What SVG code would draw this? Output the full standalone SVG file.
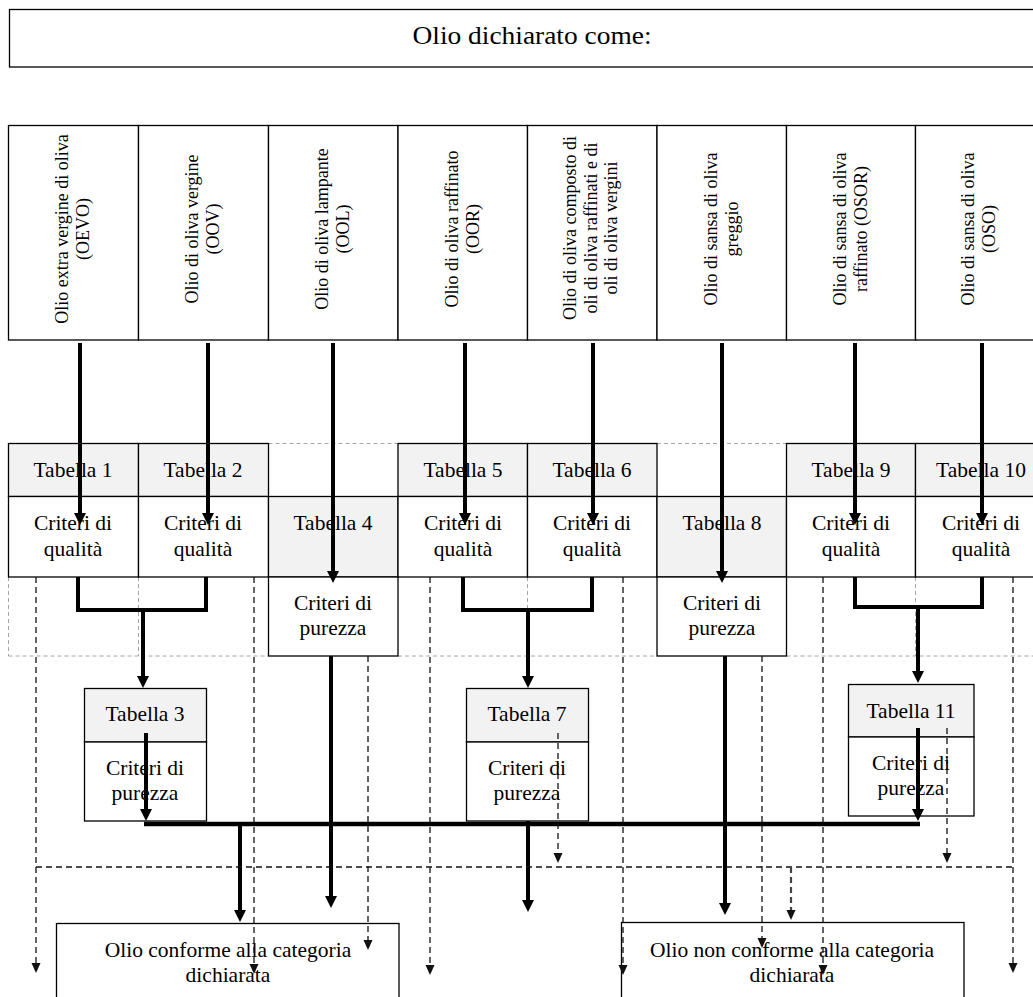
<svg xmlns="http://www.w3.org/2000/svg" width="1033" height="997" viewBox="0 0 1033 997">
<defs>
<style>
.box{fill:#fff;stroke:#000;stroke-width:1.3}
.hd{fill:#f2f2f2;stroke:#000;stroke-width:1.3}
.tdash{fill:none;stroke:#a6a6a6;stroke-width:1;stroke-dasharray:4 3}
.t{font-family:"Liberation Serif","Times New Roman",serif;font-size:21.5px;fill:#000;text-anchor:middle}
.v{font-family:"Liberation Serif","Times New Roman",serif;font-size:18px;fill:#000;text-anchor:middle}
.title{font-family:"Liberation Serif","Times New Roman",serif;font-size:25px;fill:#000;text-anchor:middle}
.thick{fill:none;stroke:#000;stroke-width:4}
.dash{fill:none;stroke:#111;stroke-width:1.3;stroke-dasharray:6 4}
</style>
<marker id="ah" markerUnits="userSpaceOnUse" markerWidth="12" markerHeight="12" viewBox="0 0 12 12" refX="1" refY="6" orient="auto"><path d="M0,0 L12,6 L0,12 z" fill="#000"/></marker>
<marker id="ad" markerUnits="userSpaceOnUse" markerWidth="10" markerHeight="10" viewBox="0 0 10 10" refX="1" refY="5" orient="auto"><path d="M0,0.5 L10,5 L0,9.5 z" fill="#111"/></marker>
</defs>
<rect width="1033" height="997" fill="#fff"/>

<g id="title">
<rect class="box" x="9.5" y="9.5" width="1040" height="57.5"/>
<text class="title" x="532" y="44" textLength="239" lengthAdjust="spacingAndGlyphs">Olio dichiarato come:</text>
</g>

<g id="col1"><rect class="box" x="8.5" y="125.5" width="130" height="214.5"/>
<text class="v" transform="translate(73,229) rotate(-90)"><tspan x="0" y="-5">Olio extra vergine di oliva</tspan><tspan x="0" y="16">(OEVO)</tspan></text></g>
<g id="col2"><rect class="box" x="138.5" y="125.5" width="130" height="214.5"/>
<text class="v" transform="translate(203,229) rotate(-90)"><tspan x="0" y="-5">Olio di oliva vergine</tspan><tspan x="0" y="16">(OOV)</tspan></text></g>
<g id="col3"><rect class="box" x="268.5" y="125.5" width="129.5" height="214.5"/>
<text class="v" transform="translate(333,229) rotate(-90)"><tspan x="0" y="-5">Olio di oliva lampante</tspan><tspan x="0" y="16">(OOL)</tspan></text></g>
<g id="col4"><rect class="box" x="398" y="125.5" width="129.5" height="214.5"/>
<text class="v" transform="translate(463,229) rotate(-90)"><tspan x="0" y="-5">Olio di oliva raffinato</tspan><tspan x="0" y="16">(OOR)</tspan></text></g>
<g id="col5"><rect class="box" x="527.5" y="125.5" width="129.5" height="214.5"/>
<text class="v" transform="translate(592,228) rotate(-90)"><tspan x="0" y="-16">Olio di oliva composto di</tspan><tspan x="0" y="4.5">oli di oliva raffinati e di</tspan><tspan x="0" y="25">oli di oliva vergini</tspan></text></g>
<g id="col6"><rect class="box" x="657" y="125.5" width="129.5" height="214.5"/>
<text class="v" transform="translate(722,229) rotate(-90)"><tspan x="0" y="-5">Olio di sansa di oliva</tspan><tspan x="0" y="16">greggio</tspan></text></g>
<g id="col7"><rect class="box" x="786.5" y="125.5" width="129" height="214.5"/>
<text class="v" transform="translate(851,229) rotate(-90)"><tspan x="0" y="-5">Olio di sansa di oliva</tspan><tspan x="0" y="16">raffinato (OSOR)</tspan></text></g>
<g id="col8"><rect class="box" x="915.5" y="125.5" width="130" height="214.5"/>
<text class="v" transform="translate(979,229) rotate(-90)"><tspan x="0" y="-5">Olio di sansa di oliva</tspan><tspan x="0" y="16">(OSO)</tspan></text></g>

<g id="table-grid">
<path class="tdash" d="M268.5,443.5 H398 M657,443.5 H786.5 M8.5,577 V656 M138.5,577 V656 M8.5,656 H268.5 M398,656 H657 M527.5,577 V656 M786.5,656 H1045 M915.5,577 V656"/>
</g>

<g id="t1"><rect class="hd" x="8.5" y="443.5" width="130" height="53"/><rect class="box" x="8.5" y="496.5" width="130" height="80.5"/>
<text class="t" x="73" y="477">Tabella 1</text><text class="t" x="73" y="530">Criteri di</text><text class="t" x="73" y="556">qualità</text></g>
<g id="t2"><rect class="hd" x="138.5" y="443.5" width="130" height="53"/><rect class="box" x="138.5" y="496.5" width="130" height="80.5"/>
<text class="t" x="203" y="477">Tabella 2</text><text class="t" x="203" y="530">Criteri di</text><text class="t" x="203" y="556">qualità</text></g>
<g id="t4"><rect class="hd" x="268.5" y="496.5" width="129.5" height="80.5"/><rect class="box" x="268.5" y="577" width="129.5" height="79"/>
<text class="t" x="333" y="530">Tabella 4</text><text class="t" x="333" y="610">Criteri di</text><text class="t" x="333" y="635">purezza</text></g>
<g id="t5"><rect class="hd" x="398" y="443.5" width="129.5" height="53"/><rect class="box" x="398" y="496.5" width="129.5" height="80.5"/>
<text class="t" x="463" y="477">Tabella 5</text><text class="t" x="463" y="530">Criteri di</text><text class="t" x="463" y="556">qualità</text></g>
<g id="t6"><rect class="hd" x="527.5" y="443.5" width="129.5" height="53"/><rect class="box" x="527.5" y="496.5" width="129.5" height="80.5"/>
<text class="t" x="592" y="477">Tabella 6</text><text class="t" x="592" y="530">Criteri di</text><text class="t" x="592" y="556">qualità</text></g>
<g id="t8"><rect class="hd" x="657" y="496.5" width="129.5" height="80.5"/><rect class="box" x="657" y="577" width="129.5" height="79"/>
<text class="t" x="722" y="530">Tabella 8</text><text class="t" x="722" y="610">Criteri di</text><text class="t" x="722" y="635">purezza</text></g>
<g id="t9"><rect class="hd" x="786.5" y="443.5" width="129" height="53"/><rect class="box" x="786.5" y="496.5" width="129" height="80.5"/>
<text class="t" x="851" y="477">Tabella 9</text><text class="t" x="851" y="530">Criteri di</text><text class="t" x="851" y="556">qualità</text></g>
<g id="t10"><rect class="hd" x="915.5" y="443.5" width="130" height="53"/><rect class="box" x="915.5" y="496.5" width="130" height="80.5"/>
<text class="t" x="981" y="477">Tabella 10</text><text class="t" x="981" y="530">Criteri di</text><text class="t" x="981" y="556">qualità</text></g>

<g id="t3"><rect class="hd" x="84.5" y="688.5" width="122" height="53.5"/><rect class="box" x="84.5" y="742" width="122" height="79"/>
<text class="t" x="145" y="721">Tabella 3</text><text class="t" x="145" y="775">Criteri di</text><text class="t" x="145" y="800">purezza</text></g>
<g id="t7"><rect class="hd" x="466.5" y="688.5" width="122" height="53.5"/><rect class="box" x="466.5" y="742" width="122" height="79"/>
<text class="t" x="527" y="721">Tabella 7</text><text class="t" x="527" y="775">Criteri di</text><text class="t" x="527" y="800">purezza</text></g>
<g id="t11"><rect class="hd" x="848.5" y="684.5" width="125.5" height="52.5"/><rect class="box" x="848.5" y="737" width="125.5" height="79"/>
<text class="t" x="911" y="718">Tabella 11</text><text class="t" x="911" y="770">Criteri di</text><text class="t" x="911" y="795">purezza</text></g>

<g id="conforme"><rect class="box" x="56.5" y="923.5" width="342.5" height="80"/>
<text class="t" x="228" y="957">Olio conforme alla categoria</text><text class="t" x="228" y="982">dichiarata</text></g>
<g id="non-conforme"><rect class="box" x="621.5" y="922.5" width="342.5" height="80"/>
<text class="t" x="792" y="957">Olio non conforme alla categoria</text><text class="t" x="792" y="982">dichiarata</text></g>

<g id="connectors">
<path class="thick" marker-end="url(#ah)" d="M80,343 V514"/>
<path class="thick" marker-end="url(#ah)" d="M208,343 V514"/>
<path class="thick" marker-end="url(#ah)" d="M333,343 V572"/>
<path class="thick" marker-end="url(#ah)" d="M465,343 V514"/>
<path class="thick" marker-end="url(#ah)" d="M593,343 V514"/>
<path class="thick" marker-end="url(#ah)" d="M722,343 V572"/>
<path class="thick" marker-end="url(#ah)" d="M855,343 V514"/>
<path class="thick" marker-end="url(#ah)" d="M982,343 V514"/>
<path class="thick" d="M78,577 V610 H206 V577"/>
<path class="thick" marker-end="url(#ah)" d="M143,610 V677"/>
<path class="thick" d="M463,577 V610 H592 V577"/>
<path class="thick" marker-end="url(#ah)" d="M528,610 V677"/>
<path class="thick" d="M855,577 V607 H982 V577"/>
<path class="thick" marker-end="url(#ah)" d="M918,607 V672"/>
<path class="thick" marker-end="url(#ah)" d="M146,733 V810"/>
<path class="thick" marker-end="url(#ah)" d="M918,728 V810"/>
<path class="thick" style="stroke-width:4.5" d="M144,824 H920"/>
<path class="thick" marker-end="url(#ah)" d="M240,826 V911"/>
<path class="thick" marker-end="url(#ah)" d="M331,656 V897"/>
<path class="thick" marker-end="url(#ah)" d="M528,821 V901"/>
<path class="thick" marker-end="url(#ah)" d="M725,656 V904"/>
<path class="dash" marker-end="url(#ad)" d="M36,577 V964"/>
<path class="dash" marker-end="url(#ad)" d="M254,577 V965"/>
<path class="dash" marker-end="url(#ad)" d="M368,656 V941"/>
<path class="dash" marker-end="url(#ad)" d="M430,577 V966"/>
<path class="dash" marker-end="url(#ad)" d="M623,577 V966"/>
<path class="dash" marker-end="url(#ad)" d="M762,656 V939"/>
<path class="dash" marker-end="url(#ad)" d="M823,577 V966"/>
<path class="dash" marker-end="url(#ad)" d="M1013,577 V964"/>
<path class="dash" marker-end="url(#ad)" d="M558,733 V854"/>
<path class="dash" marker-end="url(#ad)" d="M947,728 V854"/>
<path class="dash" d="M36,867 H1013"/>
<path class="dash" style="stroke-width:2.2;stroke:#444" marker-end="url(#ad)" d="M791,867 V911"/>
</g>
</svg>
